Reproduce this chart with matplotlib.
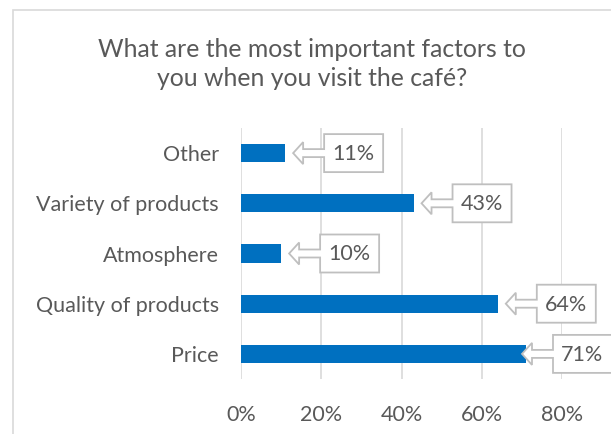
import matplotlib.pyplot as plt
from matplotlib.patches import Polygon, Rectangle
from matplotlib.transforms import IdentityTransform

# data
categories = ["Price", "Quality of products", "Atmosphere", "Variety of products", "Other"]
values = [0.71, 0.64, 0.10, 0.43, 0.11]
labels = ["71%", "64%", "10%", "43%", "11%"]
ticks = [0, 0.2, 0.4, 0.6, 0.8]
tick_labels = ["0%", "20%", "40%", "60%", "80%"]

plt.rcParams['font.family'] = ['Lato', 'DejaVu Sans']
grey = '#595959'

fig = plt.figure(figsize=(6.11, 4.34), dpi=100)
# chart border (cropped on right and bottom)
fig.add_artist(Rectangle((13, -20), 700, 434 - 10 + 20, transform=IdentityTransform(),
                         fill=False, edgecolor='#D9D9D9', linewidth=1.2))

ax = fig.add_axes([241 / 611, 55 / 434, 321 / 611, 251 / 434])
y = range(len(categories))
ax.barh(y, values, height=0.36, color='#0070C0', zorder=3)
ax.set_xlim(0, 0.8)
ax.set_ylim(-0.5, len(categories) - 0.5)
ax.set_xticks(ticks)
ax.set_xticklabels(tick_labels)
ax.set_yticks(list(y))
ax.set_yticklabels(categories)
ax.tick_params(length=0, labelsize=15.5, colors=grey)
ax.tick_params(axis='y', pad=16)
ax.tick_params(axis='x', pad=19)
for s in ax.spines.values():
    s.set_visible(False)
ax.grid(axis='x', color='#D9D9D9', linewidth=1.2, zorder=0)
ax.set_facecolor('none')

fig.text(312 / 611, 1 - 64 / 434,
         "What are the most important factors to\nyou when you visit the café?",
         ha='center', va='center', fontsize=17.8, color=grey, linespacing=1.3)

# arrow callouts for data labels
fig.canvas.draw()
W, H, L = 59, 19, 31
for i, v in enumerate(values):
    bx, by = ax.transData.transform((v, i))
    tip = bx + 8
    if tip + L + W > 611:
        tip = 611 - L - W + 1
    pts = [(0, 0), (10, 11), (10, 4), (L, 4), (L, H), (L + W, H), (L + W, -H),
           (L, -H), (L, -4), (10, -4), (10, -11)]
    poly = Polygon([(tip + px, by + py) for px, py in pts], closed=True,
                   transform=IdentityTransform(), facecolor='white',
                   edgecolor='#BFBFBF', linewidth=1.3, zorder=5)
    fig.add_artist(poly)
    fig.text((tip + L + W / 2) / 611, (by - 1) / 434, labels[i], ha='center', va='center',
             fontsize=15.5, color=grey, zorder=6)

fig.savefig('out.png', dpi=100)
